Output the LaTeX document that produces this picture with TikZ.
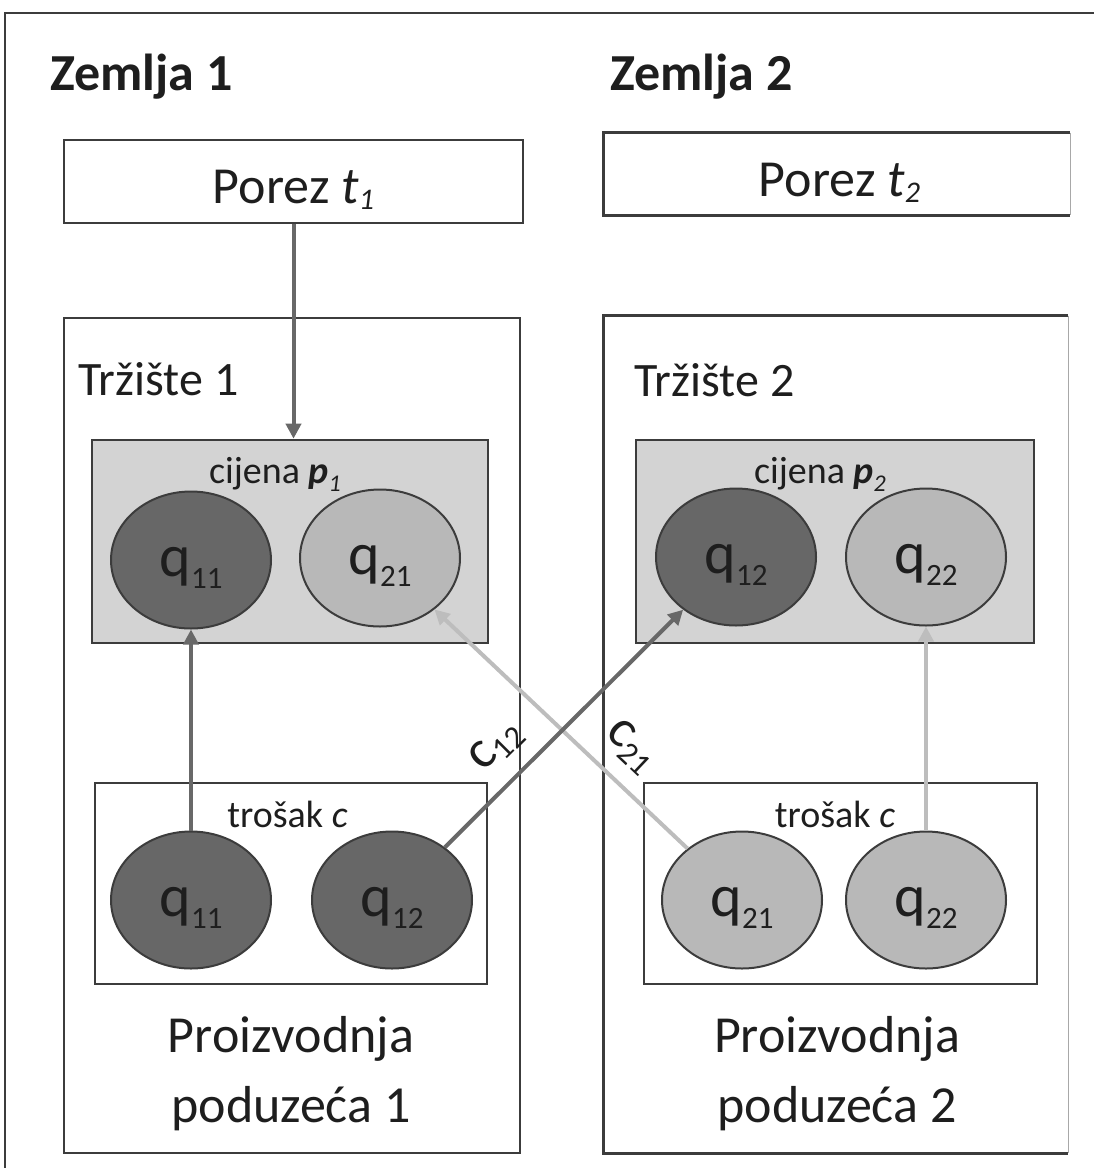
\documentclass[tikz,border=0pt]{standalone}
\usepackage{fontspec}
\setmainfont{Carlito}
\usetikzlibrary{shapes.geometric,arrows.meta}
\definecolor{linec}{HTML}{3C3C3C}
\definecolor{edgec}{HTML}{A8A8A8}
\definecolor{pricec}{HTML}{D3D3D3}
\definecolor{qdarkc}{HTML}{676767}
\definecolor{qlightc}{HTML}{B8B8B8}
\definecolor{arrdark}{HTML}{686868}
\definecolor{arrlight}{HTML}{BDBDBD}
\definecolor{txt}{HTML}{1E1E1E}
\newcommand{\zemfont}{\fontsize{26pt}{30pt}\selectfont\bfseries}
\newcommand{\trzfont}{\fontsize{24pt}{29pt}\selectfont}
\newcommand{\porfont}{\fontsize{26pt}{35pt}\selectfont}
\newcommand{\smlfont}{\fontsize{19pt}{23pt}\selectfont}
\newcommand{\lowsub}[3]{\raisebox{-#1}{\fontsize{#2}{#2}\selectfont #3}}
\newcommand{\qlab}[1]{{\fontsize{30pt}{30pt}\selectfont q}\lowsub{6pt}{15.5pt}{#1}}
\newcommand{\clab}[1]{{\fontsize{27pt}{27pt}\selectfont c}\lowsub{4pt}{16pt}{#1}}
\begin{document}
\begin{tikzpicture}[x=0.5pt,y=-0.5pt,text=txt,
  box/.style={draw=linec,line width=1.3pt,inner sep=0pt},
  lbl/.style={inner sep=0pt},
  qdark/.style={ellipse,draw=linec,line width=1pt,fill=qdarkc,minimum width=80pt,minimum height=68.5pt,inner sep=0pt,text height=16pt,text depth=0pt},
  qlight/.style={qdark,fill=qlightc},
  darrow/.style={draw=arrdark,line width=2pt,-{Triangle[length=7.5pt,width=7.5pt]}},
  larrow/.style={darrow,draw=arrlight}]
\useasboundingbox (0,0) rectangle (1094,1168);
% Frame
\draw[line width=1pt,linec] (5,1168) -- (5,13) -- (1094,13);
% Countries
\node[lbl,anchor=base west,font=\zemfont] (zem1) at (50,90) {Zemlja 1};
\node[lbl,anchor=base west,font=\zemfont] (zem2) at (610,90) {Zemlja 2};
% Taxes
\node[box,minimum width=229.5pt,minimum height=41.5pt] (por1) at (293.5,181.5) {};
\node[inner sep=0pt,minimum width=233pt,minimum height=41pt] (por2) at (837,174) {};
\draw[linec,line width=1.3pt] (por2.north east) -- (por2.north west) -- (por2.south west) -- (por2.south east);
\draw[edgec,line width=0.8pt] (por2.north east) -- (por2.south east);
\node[lbl,anchor=base,font=\porfont] (por1t) at (293.5,203) {Porez \textit{t}\lowsub{3pt}{15pt}{\itshape 1}};
\node[lbl,anchor=base,font=\porfont] (por2t) at (839.5,196) {Porez \textit{t}\lowsub{3pt}{15pt}{\itshape 2}};
% Markets
\node[box,minimum width=228pt,minimum height=417.5pt] (trz1) at (292,735.5) {};
\node[inner sep=0pt,minimum width=232pt,minimum height=418.5pt] (trz2) at (836,734.5) {};
\draw[linec,line width=1.3pt] (trz2.north east) -- (trz2.north west) -- (trz2.south west) -- (trz2.south east);
\draw[edgec,line width=0.8pt] (trz2.north east) -- (trz2.south east);
\node[lbl,anchor=base west,font=\trzfont] (trz1t) at (78,395) {Tržište 1};
\node[lbl,anchor=base west,font=\trzfont] (trz2t) at (634,396) {Tržište 2};
% Prices
\node[box,fill=pricec,minimum width=198pt,minimum height=101.5pt] (cij1) at (290,541.5) {};
\node[box,fill=pricec,minimum width=199pt,minimum height=101.5pt] (cij2) at (835,541.5) {};
\node[lbl,anchor=base,font=\smlfont] (cij1t) at (275,483) {cijena \textbf{\textit{p}}\lowsub{4pt}{12pt}{\itshape 1}};
\node[lbl,anchor=base,font=\smlfont] (cij2t) at (820,483) {cijena \textbf{\textit{p}}\lowsub{4pt}{12pt}{\itshape 2}};
% Costs
\node[box,minimum width=196pt,minimum height=100.5pt] (tro1) at (291,883.5) {};
\node[box,minimum width=196.5pt,minimum height=100.5pt] (tro2) at (840.5,883.5) {};
\node[lbl,anchor=base,font=\smlfont] (tro1t) at (287.5,827) {trošak \textit{c}};
\node[lbl,anchor=base,font=\smlfont] (tro2t) at (835,827) {trošak \textit{c}};
% Production
\node[lbl,anchor=base,font=\porfont,align=center] (pro1) at (291,1122) {Proizvodnja\\poduzeća 1};
\node[lbl,anchor=base,font=\porfont,align=center] (pro2) at (837,1122) {Proizvodnja\\poduzeća 2};
% Quantities
\node[qdark] (tq11) at (191,560) {\qlab{11}};
\node[qlight] (tq21) at (380,558) {\qlab{21}};
\node[qdark] (tq12) at (736,557) {\qlab{12}};
\node[qlight] (tq22) at (926,557) {\qlab{22}};
\node[qdark] (bq11) at (191,900) {\qlab{11}};
\node[qdark] (bq12) at (392,900) {\qlab{12}};
\node[qlight] (bq21) at (742,900) {\qlab{21}};
\node[qlight] (bq22) at (926,900) {\qlab{22}};
% Arrows
\draw[darrow] (por1.south) -- (por1.south |- cij1.north);
\draw[darrow] (bq11) -- (tq11);
\draw[larrow] (bq22) -- (tq22);
\draw[larrow] (bq21) -- node[sloped,above=8pt,pos=0.32,inner sep=0pt] (c21) {\clab{21}} (tq21);
\draw[darrow] (bq12) -- node[sloped,above=8pt,pos=0.32,inner sep=0pt] (c12) {\clab{12}} (tq12);
\end{tikzpicture}
\end{document}
